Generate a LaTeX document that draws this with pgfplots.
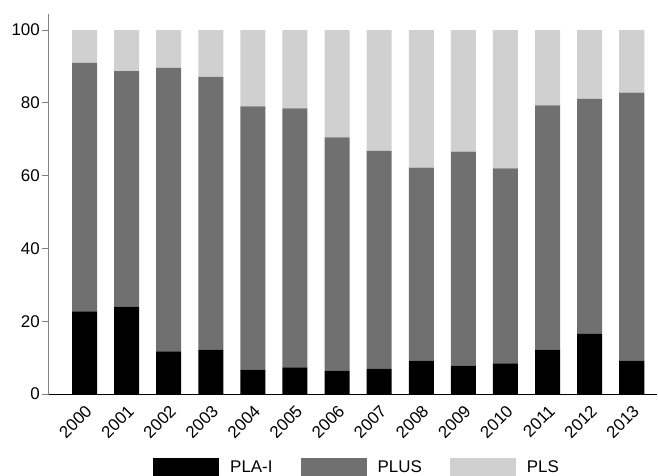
\documentclass[border=0pt]{standalone}
\usepackage{pgfplots}
\pgfplotsset{compat=1.18}
\usepackage{fontspec}
\setmainfont{Liberation Sans}
\usetikzlibrary{calc}

\definecolor{plai}{HTML}{000000}
\definecolor{plus}{HTML}{707070}
\definecolor{pls}{HTML}{D0D0D0}

% shares per year: PLA-I, PLUS, PLS
\pgfplotstableread{
x  plai  plus  pls
0  22.7  68.3  9.0
1  24.0  64.7  11.3
2  11.7  77.9  10.4
3  12.2  74.9  12.9
4  6.7   72.3  21.0
5  7.3   71.2  21.5
6  6.4   64.1  29.5
7  7.0   59.8  33.2
8  9.2   53.0  37.8
9  7.8   58.8  33.4
10 8.4   53.6  38.0
11 12.2  67.1  20.7
12 16.5  64.6  18.9
13 9.2   73.6  17.2
}\shares

\begin{document}
\begin{tikzpicture}
\begin{axis}[
    name=ax,
    at={(0,0)}, anchor=south west,
    scale only axis,
    width=608bp, height=380bp,
    ybar stacked,
    bar width=25bp,
    xmin=-0.844, xmax=13.6,
    ymin=0, ymax=104.4,
    axis x line*=bottom,
    axis y line*=left,
    separate axis lines,
    x axis line style={-, black, line width=1bp},
    y axis line style={-, gray, line width=1bp},
    xtick={0,...,13},
    xticklabels={2000,2001,2002,2003,2004,2005,2006,2007,2008,2009,2010,2011,2012,2013},
    x tick style={draw=none},
    xticklabel style={rotate=45, anchor=north east, inner sep=2bp, xshift=0bp},
    ytick={0,20,40,60,80,100},
    y tick style={gray, line width=1bp},
    tick align=outside,
    major tick length=7bp,
    yticklabel style={inner sep=2bp},
    ticklabel style={font=\fontsize{17}{20}\selectfont},
    /pgf/number format/assume math mode=true,
    legend columns=3,
    legend style={
        at={(0.5066,-0.192)}, anchor=center,
        draw=none, fill=none,
        font=\fontsize{17}{20}\selectfont,
        /tikz/every odd column/.append style={column sep=9bp},
        /tikz/every even column/.append style={column sep=26bp},
    },
    legend image code/.code={\fill[#1] (0bp,-9bp) rectangle (66bp,9bp);},
]
\addplot[fill=plai, draw=none] table[x=x, y=plai] {\shares};
\addplot[fill=plus, draw=none] table[x=x, y=plus] {\shares};
\addplot[fill=pls, draw=none] table[x=x, y=pls] {\shares};
\legend{PLA-I, PLUS, PLS}
\end{axis}
\pgfresetboundingbox
\path[use as bounding box] ($(ax.south west)+(-49bp,-82bp)$) rectangle ($(ax.south west)+(609bp,394bp)$);
\end{tikzpicture}
\end{document}
